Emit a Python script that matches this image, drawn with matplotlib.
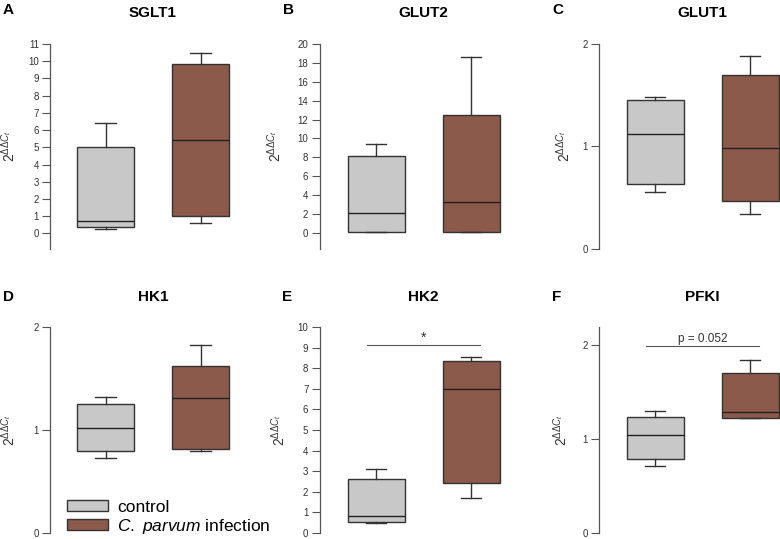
import matplotlib
matplotlib.use("Agg")
import matplotlib.pyplot as plt
from matplotlib.patches import Patch

plt.rcParams['font.family'] = ['Liberation Sans', 'DejaVu Sans']
plt.rcParams['mathtext.fontset'] = 'custom'
plt.rcParams['mathtext.rm'] = 'Liberation Sans'
plt.rcParams['mathtext.it'] = 'Liberation Sans:italic'
plt.rcParams['mathtext.bf'] = 'Liberation Sans:bold'

# box statistics: whislo, q1, med, q3, whishi
genes = ["SGLT1", "GLUT2", "GLUT1", "HK1", "HK2", "PFKI"]
letters = ["A", "B", "C", "D", "E", "F"]
control = [
    [0.27, 0.35, 0.75, 5.0, 6.4],
    [0.1, 0.15, 2.1, 8.1, 9.45],
    [0.552, 0.636, 1.12, 1.455, 1.484],
    [0.725, 0.796, 1.023, 1.249, 1.324],
    [0.5, 0.53, 0.84, 2.62, 3.12],
    [0.712, 0.79, 1.046, 1.238, 1.299],
]
infected = [
    [0.6, 1.0, 5.45, 9.85, 10.45],
    [0.05, 0.05, 3.25, 12.5, 18.6],
    [0.341, 0.467, 0.987, 1.695, 1.88],
    [0.793, 0.816, 1.307, 1.621, 1.822],
    [1.68, 2.43, 7.0, 8.35, 8.54],
    [1.224, 1.224, 1.292, 1.708, 1.847],
]
yticks = [list(range(0, 12)), list(range(0, 21, 2)), [0, 1, 2],
          [0, 1, 2], list(range(0, 11)), [0, 1, 2]]
ylims = [(-0.9, 11), (-1.7, 20), (0, 2), (0, 2), (0, 10), (0, 2.196)]
sig = {4: (9.13, "*"), 5: (1.99, "p = 0.052")}

col_ctrl = "#c8c8c8"
col_inf = "#8b5a4a"

W, H = 780, 539
fig = plt.figure(figsize=(W / 100, H / 100), dpi=100)

# pixel layout: spine x, first box centre, right edge, top, bottom
spines = [50, 319.5, 599, 50, 319.5, 599]
centres = [105.5, 376, 655, 105.5, 376, 655]
rights = [257, 515, 780, 257, 515, 780]
tops = [44, 44, 44, 327, 327, 327]
bots = [249, 249, 249, 533, 533, 533]
labgap = [32, 35, 26, 32, 32, 29]
letx = [3, 283, 552, 3, 282, 552]
unit = 95.0  # pixels per box step

for i in range(6):
    l, r, t, b = spines[i], rights[i], tops[i], bots[i]
    ax = fig.add_axes([l / W, 1 - b / H, (r - l) / W, (b - t) / H])
    stats = []
    for s in (control[i], infected[i]):
        stats.append(dict(whislo=s[0], q1=s[1], med=s[2], q3=s[3], whishi=s[4], fliers=[]))
    bp = ax.bxp(stats, positions=[1, 2], widths=0.6, patch_artist=True,
                capwidths=0.22,
                boxprops=dict(edgecolor="#333333", linewidth=1.0),
                medianprops=dict(color="#222222", linewidth=1.0),
                whiskerprops=dict(color="#333333", linewidth=1.0),
                capprops=dict(color="#333333", linewidth=1.0))
    bp['boxes'][0].set_facecolor(col_ctrl)
    bp['boxes'][1].set_facecolor(col_inf)
    for a in bp['boxes'] + bp['whiskers'] + bp['caps'] + bp['medians']:
        a.set_clip_on(False)

    x0 = 1 - (centres[i] - l) / unit
    x1 = 1 + (r - centres[i]) / unit
    ax.set_xlim(x0, x1)
    ax.set_ylim(*ylims[i])
    ax.set_yticks(yticks[i])
    ax.tick_params(axis='y', length=6, width=0.8, color="#555555",
                   labelsize=7, labelcolor="#333333", pad=2)
    ax.set_xticks([])
    for side in ("top", "right", "bottom"):
        ax.spines[side].set_visible(False)
    ax.spines["left"].set_color("#555555")
    ax.spines["left"].set_linewidth(0.9)
    ax.patch.set_visible(False)

    ax.set_ylabel(r"$2^{\Delta\Delta C_t}$", fontsize=10, color="#333333")
    ax.yaxis.set_label_coords(-labgap[i] / (r - l), 0.5)

    if i in sig:
        y, txt = sig[i]
        ax.plot([0.91, 2.09], [y, y], color="#555555", linewidth=0.8, clip_on=False)
        if txt == "*":
            ax.text(1.5, y, txt, ha="center", va="bottom", fontsize=10, color="#333333")
        else:
            ax.text(1.5, y + 0.01, txt, ha="center", va="bottom", fontsize=8.5, color="#333333")

    # title and panel letter
    ty = 13 if i < 3 else 297
    tx = centres[i] + unit / 2
    fig.text(tx / W, 1 - ty / H, genes[i], ha="center", va="center",
             fontsize=11, fontweight="bold")
    fig.text(letx[i] / W, 1 - (ty - 3 if i < 3 else ty) / H, letters[i],
             ha="left", va="center", fontsize=11, fontweight="bold")

handles = [Patch(facecolor=col_ctrl, edgecolor="#333333", linewidth=1.0),
           Patch(facecolor=col_inf, edgecolor="#333333", linewidth=1.0)]
fig.legend(handles, ["control", r"$\it{C.}$ $\it{parvum}$ infection"],
           loc="upper left", bbox_to_anchor=(67 / W, 1 - 500 / H),
           frameon=False, fontsize=12.5, borderpad=0, borderaxespad=0,
           handlelength=2.35, handleheight=0.6, handletextpad=0.55,
           labelspacing=0.1)

fig.savefig("out.png", dpi=100)
